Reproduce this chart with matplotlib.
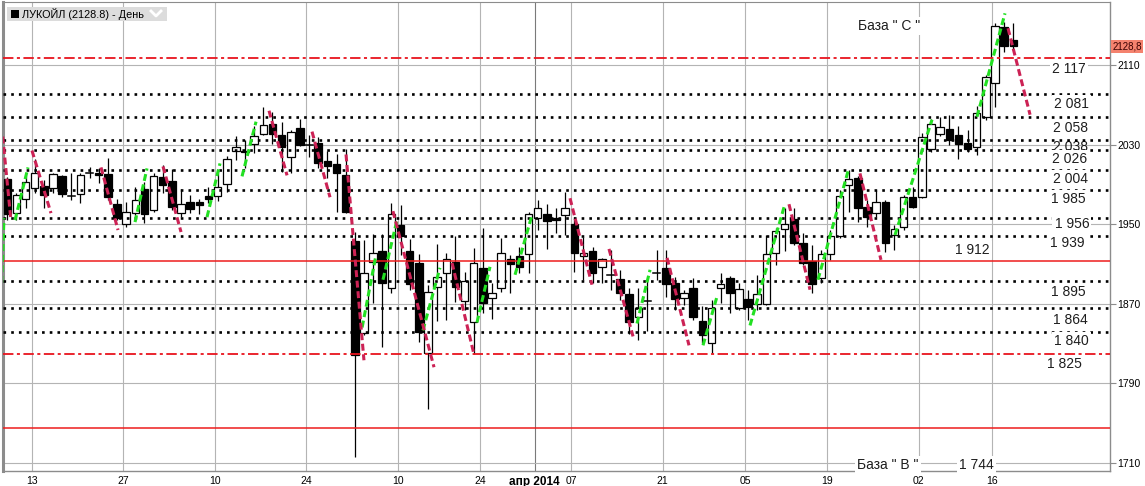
import matplotlib
matplotlib.use('Agg')
import matplotlib.pyplot as plt
from matplotlib.patches import Rectangle
from matplotlib.lines import Line2D

plt.rcParams['font.family'] = ['Liberation Sans', 'DejaVu Sans']
plt.rcParams['lines.scale_dashes'] = False

# trading day index (0 = 13 Jan 2014), open / high / low / close
day = list(range(-3, 108))
opens = [1995, 1961, 1975,
         1986, 1988, 1986, 1998, 1978, 1980, 2001, 2001, 2000, 1970,   # 0-9
         1950, 1961, 1985, 1964, 1997, 1993, 1961, 1972, 1972, 1978,   # 10-19
         1978, 1990, 2024, 2024, 2031, 2041, 2051, 2040, 2017, 2047,   # 20-29
         2030, 2032, 2013, 2010, 1999, 1933, 1840, 1912, 1923, 1886,   # 30-39
         1949, 1923, 1911, 1820, 1887, 1901, 1912, 1873, 1851, 1906,   # 40-49
         1876, 1886, 1915, 1918, 1920, 1956, 1960, 1956, 1959, 1950,   # 50-59
         1918, 1923, 1907, 1899, 1895, 1880, 1857, 1873, 1901, 1906,   # 60-69
         1891, 1876, 1886, 1852, 1830, 1886, 1896, 1866, 1875, 1870,   # 70-79
         1870, 1921, 1945, 1955, 1931, 1913, 1896, 1920, 1938, 1989,   # 80-89
         1996, 1967, 1961, 1972, 1939, 1947, 1977, 1977, 2026, 2041,   # 90-99
         2046, 2040, 2032, 2028, 2058, 2092, 2148, 2135]               # 100-107
highs = [1997, 1981, 1998,
         2015, 1994, 2001, 1999, 2001, 2001, 2007, 2006, 2016, 1975,
         1972, 1987, 1992, 2001, 2009, 2005, 1985, 1979, 1975, 1987,
         2004, 2018, 2039, 2035, 2049, 2068, 2063, 2053, 2045, 2056,
         2040, 2038, 2024, 2020, 2026, 1942, 1934, 1940, 1940, 1971,
         1969, 1935, 1920, 1889, 1930, 1921, 1938, 1902, 1926, 1946,
         1891, 1936, 1919, 1927, 1962, 1974, 1970, 1966, 1982, 1957,
         1937, 1927, 1916, 1924, 1904, 1886, 1886, 1894, 1924, 1924,
         1897, 1884, 1896, 1868, 1874, 1901, 1898, 1891, 1884, 1899,
         1939, 1946, 1966, 1966, 1941, 1929, 1924, 1944, 1984, 2004,
         1998, 1974, 1984, 1974, 1949, 1979, 1987, 2042, 2056, 2058,
         2060, 2049, 2045, 2069, 2100, 2152, 2153, 2152]
lows = [1954, 1954, 1966,
        1981, 1966, 1981, 1977, 1974, 1971, 1996, 1991, 1974, 1954,
        1947, 1954, 1951, 1962, 1981, 1964, 1957, 1961, 1960, 1971,
        1973, 1982, 2014, 2006, 2021, 2040, 2031, 2002, 2001, 2029,
        2017, 2006, 1996, 1962, 1961, 1716, 1838, 1871, 1826, 1881,
        1919, 1884, 1831, 1764, 1852, 1854, 1872, 1864, 1819, 1861,
        1855, 1882, 1881, 1901, 1901, 1944, 1925, 1941, 1939, 1902,
        1894, 1891, 1891, 1884, 1874, 1839, 1833, 1842, 1894, 1877,
        1864, 1869, 1854, 1830, 1820, 1871, 1861, 1864, 1854, 1864,
        1869, 1909, 1923, 1929, 1909, 1881, 1891, 1914, 1936, 1962,
        1952, 1947, 1957, 1922, 1924, 1944, 1966, 1976, 2023, 2039,
        2030, 2015, 2023, 2019, 2055, 2068, 2123, 2125]
closes = [1960, 1979, 1992,
          2001, 1979, 2000, 1980, 1978, 1999, 2001, 1999, 1977, 1956,
          1962, 1974, 1960, 1998, 1989, 1967, 1970, 1965, 1969, 1975,
          1987, 2015, 2028, 2023, 2039, 2050, 2041, 2028, 2043, 2030,
          2030, 2011, 2008, 2001, 1962, 1818, 1901, 1921, 1891, 1960,
          1938, 1890, 1841, 1882, 1897, 1915, 1887, 1893, 1911, 1871,
          1881, 1921, 1910, 1907, 1960, 1966, 1953, 1954, 1966, 1921,
          1921, 1901, 1915, 1899, 1881, 1851, 1866, 1873, 1901, 1890,
          1875, 1881, 1857, 1838, 1866, 1890, 1881, 1885, 1867, 1880,
          1920, 1943, 1950, 1931, 1911, 1890, 1920, 1938, 1978, 1995,
          1966, 1957, 1972, 1931, 1945, 1977, 1967, 2038, 2051, 2048,
          2035, 2031, 2026, 2062, 2098, 2149, 2129, 2128.8]

last_price = 2128.8

# horizontal levels
dotted_levels = [2081, 2058, 2035, 2025, 2004, 1984, 1956, 1938, 1893, 1866, 1841]
solid_levels = [1913, 1745]
dashdot_levels = [2117, 1819]

# level captions (text, day, value)
captions = [('2 117', 113.1, 2106), ('2 081', 113.4, 2071),
            ('2 058', 113.2, 2047), ('2 026', 113.2, 2015.5), ('2 004', 113.2, 1995.5),
            ('1 985', 113.0, 1975), ('1 956', 113.4, 1950), ('1 939', 112.9, 1931),
            ('1 912', 102.5, 1924), ('1 895', 113.0, 1882), ('1 864', 113.2, 1853.5),
            ('1 840', 113.4, 1832.5), ('1 825', 112.6, 1809), ('1 744', 103.0, 1707.5),
            ('База " В "', 93.3, 1707.5), ('База " С "', 93.4, 2149)]
hidden_caption = ('2 038', 113.2, 2028)

# projection segments: day0, value0, day1, value1
up_lines = [(-3.61, 1891, -3.36, 1956), (-2.15, 1954, -0.73, 2007), (10.97, 1952, 12.28, 2006),
            (18.84, 1957, 20.26, 2011), (22.67, 1998, 24.20, 2053), (35.8, 1846, 37.3, 1918),
            (38.08, 1894, 39.61, 1954), (42.45, 1843, 44.31, 1906), (48.36, 1851, 49.78, 1907),
            (52.52, 1899, 54.37, 1959), (65.85, 1850, 67.28, 1904), (73.07, 1828, 74.6, 1877),
            (78.21, 1848, 81.93, 1967), (85.64, 1894, 88.92, 2003), (94.06, 1939, 98.11, 2055),
            (103.03, 2058, 106.09, 2162)]
down_lines = [(-3.50, 2038, -2.62, 1956), (-0.30, 2024, 1.78, 1961), (7.25, 2007, 9.11, 1944),
              (14.03, 2008, 16.0, 1942), (25.62, 2064, 27.59, 1999), (30.32, 2043, 32.29, 1977),
              (34.04, 2020, 36.0, 1813), (39.17, 1963, 43.66, 1806), (45.63, 1911, 48.03, 1819),
              (58.53, 1976, 60.93, 1889), (62.79, 1925, 65.42, 1837), (69.14, 1916, 71.54, 1828),
              (82.47, 1970, 84.77, 1884), (90.23, 2001, 92.53, 1914), (106.42, 2147, 108.83, 2060)]

tick_days = [0, 10, 20, 30, 40, 49, 55, 59, 69, 78, 87, 97, 105]
tick_labels = ['13', '27', '10', '24', '10', '24', 'апр 2014', '07', '21', '05', '19', '02', '16']
price_ticks = [1710, 1790, 1870, 1950, 2030, 2110]

W, H = 1145, 486
fig = plt.figure(figsize=(W / 100, H / 100), dpi=100)
ax = fig.add_axes([2.5 / W, (H - 470.5) / H, (1110 - 2.5) / W, (470.5 - 2) / H])
ax.set_xlim(-3.52, 117.57)
ax.set_ylim(1702.1, 2173.4)

# grid
grid_x = [d - 0.33 for d in tick_days]
for gx, lab in zip(grid_x, tick_labels):
    ax.axvline(gx, color='#7a7a7a' if lab.startswith('апр') else '#b4b4b4', lw=0.8, zorder=0)
for p in price_ticks:
    ax.axhline(p, color='#b4b4b4', lw=0.8, zorder=0)

# candles
bw = 0.82
for d, o, h, l, c in zip(day, opens, highs, lows, closes):
    ax.plot([d, d], [l, h], color='black', lw=0.9, zorder=2, solid_capstyle='butt')
    if abs(c - o) < 1:
        ax.plot([d - bw / 2, d + bw / 2], [o, o], color='black', lw=1.1, zorder=3)
    else:
        face = 'white' if c > o else 'black'
        ax.add_patch(Rectangle((d - bw / 2, min(o, c)), bw, abs(c - o),
                               facecolor=face, edgecolor='black', lw=0.9, zorder=3))

# levels
ax.text(hidden_caption[1], hidden_caption[2], hidden_caption[0], fontsize=10, color='#1e1e1e',
        ha='center', va='center', zorder=3.5, clip_on=False)
for v in dotted_levels:
    ax.axhline(v, color='black', lw=1.9, ls=(0, (1.9, 3.65)), dash_capstyle='butt', zorder=4)
for v in solid_levels:
    ax.axhline(v, color='#ee1c1c', lw=1.1, zorder=4)
for v in dashdot_levels:
    ax.axhline(v, color='#e8141e', lw=1.3, ls=(0, (7.5, 2.5, 2.2, 2.5)), zorder=4)

# projections
for d0, v0, d1, v1 in up_lines:
    ax.plot([d0, d1], [v0, v1], color='#22e022', lw=2.2, ls=(0, (5, 2.6)), zorder=5)
for d0, v0, d1, v1 in down_lines:
    ax.plot([d0, d1], [v0, v1], color='#cc2255', lw=2.2, ls=(0, (5, 2.6)), zorder=5)

# captions
for txt, d, v in captions:
    ax.text(d, v, txt, fontsize=10, color='#1e1e1e', ha='center', va='center', zorder=6,
            bbox=dict(facecolor='white', edgecolor='none', pad=1.5), clip_on=False)

# axes style
for s in ['left', 'right', 'top', 'bottom']:
    ax.spines[s].set_color('#8c8c8c')
ax.spines['left'].set_linewidth(2.2)
ax.spines['right'].set_linewidth(1.0)
ax.spines['bottom'].set_linewidth(1.0)
ax.spines['top'].set_linewidth(0.8)

ax.yaxis.tick_right()
ax.set_yticks(price_ticks)
ax.set_yticklabels([str(p) for p in price_ticks])
ax.tick_params(axis='y', length=4, width=0.8, color='#8c8c8c', pad=1, labelsize=7.5)
ax.set_xticks(grid_x)
ax.set_xticklabels(tick_labels)
ax.tick_params(axis='x', length=0, pad=4, labelsize=7.5)
for t in ax.get_xticklabels():
    if t.get_text().startswith('апр'):
        t.set_fontweight('bold')
        t.set_fontsize(8.5)

# last price tag
ax.text(1.002, last_price, f'{last_price:.1f}'.replace('.', ','), transform=ax.get_yaxis_transform(),
        fontsize=7, color='#3a0000', ha='left', va='center', clip_on=False, zorder=7,
        bbox=dict(facecolor='#f4826e', edgecolor='none', pad=1.2))

# legend header
fig.add_artist(Rectangle((7 / W, 1 - 21 / H), 160 / W, 14 / H, transform=fig.transFigure,
                         facecolor='#dcdcdc', edgecolor='none'))
fig.add_artist(Rectangle((11 / W, 1 - 18 / H), 8 / W, 8 / H, transform=fig.transFigure,
                         facecolor='black', edgecolor='none'))
fig.text(22 / W, 1 - 14 / H, f'ЛУКОЙЛ ({last_price}) - День', fontsize=7.8, color='black',
         ha='left', va='center')
fig.add_artist(Line2D([151 / W, 156 / W, 161 / W], [1 - 11 / H, 1 - 16 / H, 1 - 11 / H],
                      transform=fig.transFigure, color='white', lw=2))

fig.savefig('out.png', dpi=100, facecolor='white')
